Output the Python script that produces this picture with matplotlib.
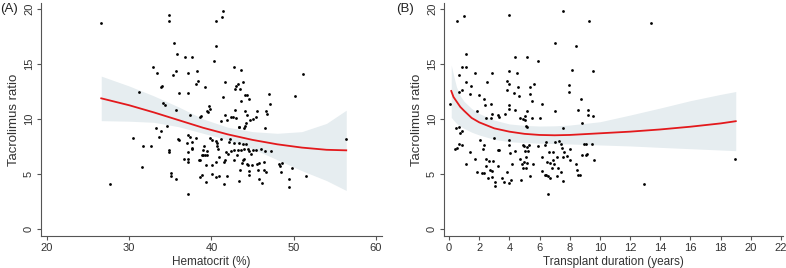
import matplotlib
matplotlib.use("Agg")
import matplotlib.pyplot as plt
import numpy as np

plt.rcParams['font.family'] = ['Liberation Sans', 'DejaVu Sans']

# ---------------- Panel A data: Hematocrit vs tacrolimus ratio ----------------
hct_x = [26.6, 34.9, 34.8, 41.4, 41.3, 40.5, 35.4, 40.5, 35.8, 36.8, 37.6, 40.3, 32.9, 33.4,
         35.7, 35.3, 37.1, 38.3, 42.8, 43.6, 51.1, 38.4, 38.1, 39.2, 41.6, 43.9, 43.0, 43.2,
         42.9, 43.5, 34.0, 33.9, 31.2, 36.0, 37.1, 44.1, 44.3, 47.0, 50.2, 41.4, 44.6, 43.6,
         47.1, 34.1, 34.3, 39.7, 39.8, 39.5, 39.6, 42.9, 41.7, 43.0, 44.1, 44.3, 45.6, 45.4,
         45.1, 44.7, 46.6, 46.8, 35.7, 37.4, 38.6, 38.7, 41.2, 41.9, 42.4, 42.6, 43.3, 43.4,
         44.2, 44.1, 44.0, 46.5, 34.6, 33.3, 33.9, 33.6, 30.5, 37.1, 37.4, 35.9, 36.1, 38.1,
         39.8, 40.1, 41.2, 40.5, 42.3, 40.7, 42.1, 42.8, 43.3, 43.9, 44.2, 45.1, 46.0, 46.5,
         47.3, 37.0, 37.6, 37.6, 37.6, 37.2, 39.1, 39.0, 39.5, 40.7, 40.8, 41.8, 42.0, 42.4,
         42.7, 43.2, 43.6, 44.0, 44.5, 44.6, 44.8, 45.4, 34.8, 34.8, 31.7, 32.7, 38.8, 39.0,
         39.2, 39.5, 36.7, 37.2, 37.2, 38.5, 38.6, 40.5, 40.9, 41.5, 41.7, 42.8, 43.1, 43.7,
         43.8, 44.0, 44.3, 44.4, 44.9, 45.5, 45.8, 46.4, 48.2, 48.6, 48.4, 40.1, 39.4, 31.6,
         49.8, 43.5, 44.6, 45.7, 46.4, 46.6, 48.5, 35.1, 35.1, 38.9, 40.1, 40.9, 41.9, 44.6,
         51.5, 38.6, 40.5, 35.7, 39.3, 41.5, 43.3, 45.8, 46.2, 49.4, 49.4, 27.7, 37.2, 56.4]
hct_y = [18.75, 19.45, 18.9, 19.8, 19.3, 18.9, 16.9, 16.6, 15.9, 15.6, 15.6, 15.3, 14.7, 14.2,
         14.4, 14.0, 14.2, 14.4, 14.7, 14.5, 14.1, 13.5, 13.2, 12.9, 13.4, 13.4, 13.0, 13.2,
         12.7, 12.7, 13.0, 12.9, 12.5, 12.4, 12.4, 12.2, 12.2, 12.3, 12.1, 12.0, 11.8, 11.6,
         11.4, 11.5, 11.3, 11.2, 10.9, 10.7, 10.6, 10.8, 10.4, 10.1, 10.7, 10.4, 10.7, 10.2,
         10.0, 9.9, 10.7, 10.5, 10.8, 10.4, 10.2, 10.3, 9.8, 9.9, 10.2, 10.2, 9.3, 9.3,
         9.6, 9.4, 9.2, 9.2, 9.4, 9.2, 8.9, 8.4, 8.3, 8.5, 8.4, 8.2, 8.1, 8.3,
         8.3, 8.1, 8.2, 8.0, 8.2, 7.8, 7.9, 7.8, 7.8, 7.7, 7.7, 7.2, 7.3, 7.1,
         7.1, 7.8, 7.9, 7.3, 7.4, 7.0, 7.5, 7.2, 7.1, 7.5, 7.3, 7.0, 6.8, 7.1,
         7.2, 7.2, 7.2, 7.3, 7.3, 7.1, 6.8, 7.2, 7.2, 7.0, 7.5, 7.5, 6.7, 6.7,
         6.7, 6.7, 6.4, 6.4, 6.1, 6.3, 6.3, 6.1, 6.5, 6.1, 6.3, 6.3, 6.7, 6.0,
         6.3, 6.4, 5.9, 5.8, 5.8, 5.9, 6.0, 6.1, 5.9, 6.0, 5.7, 5.8, 5.8, 5.6,
         5.5, 5.4, 5.3, 5.4, 5.4, 5.2, 5.2, 5.1, 4.8, 4.9, 5.0, 4.8, 4.8, 4.9,
         4.8, 4.7, 4.7, 4.5, 4.3, 4.1, 4.4, 4.5, 4.2, 4.5, 3.8, 4.1, 3.2, 8.2]

# fitted curve and 95% CI
hct_fit_x = [26.6, 30, 33, 36, 39, 42, 45, 48, 51, 54, 56.4]
hct_fit = [11.88, 11.25, 10.6, 9.9, 9.2, 8.6, 8.1, 7.7, 7.4, 7.2, 7.15]
hct_ci_lo = [9.85, 9.8, 9.7, 9.3, 8.7, 8.1, 7.3, 6.3, 5.3, 4.4, 3.5]
hct_ci_hi = [13.9, 13.0, 12.1, 11.1, 10.0, 9.25, 8.85, 8.7, 8.85, 9.6, 10.8]

# ---------------- Panel B data: Transplant duration vs tacrolimus ratio ----------------
dur_x = [0.55, 1.0, 4.0, 7.56, 9.26, 13.4, 7.05, 8.4, 1.13, 4.4, 5.17, 5.93, 0.88, 1.15,
         1.7, 2.85, 4.0, 4.5, 8.16, 9.57, 0.64, 1.15, 2.54, 3.87, 3.98, 1.46, 4.55, 5.37,
         5.6, 7.94, 0.88, 0.68, 3.82, 4.33, 7.94, 2.0, 4.62, 5.4, 1.4, 2.34, 8.73, 5.48,
         2.37, 2.78, 4.0, 6.19, 0.1, 1.86, 3.98, 4.38, 5.17, 7.05, 8.53, 9.22, 2.87, 3.25,
         3.32, 3.74, 9.22, 9.57, 2.48, 2.78, 4.69, 4.93, 5.06, 5.53, 6.01, 5.04, 0.49, 0.66,
         0.71, 0.86, 8.8, 5.08, 5.2, 7.58, 2.03, 3.0, 3.98, 0.53, 0.42, 0.69, 0.88, 1.4,
         2.3, 2.23, 3.23, 3.34, 3.98, 4.02, 4.38, 4.93, 4.97, 5.04, 5.15, 5.22, 5.3, 5.93,
         6.39, 6.45, 7.03, 7.32, 7.4, 7.49, 7.63, 8.0, 8.95, 9.06, 9.48, 9.17, 9.06, 8.78,
         7.83, 7.58, 6.92, 6.63, 6.9, 7.14, 6.19, 5.13, 4.71, 4.16, 2.92, 2.68, 2.43, 1.7,
         1.1, 1.86, 2.21, 2.34, 2.74, 2.83, 2.45, 3.23, 2.61, 2.85, 3.03, 3.05, 3.54, 3.67,
         3.85, 3.98, 4.09, 4.86, 4.91, 5.0, 5.17, 5.08, 5.4, 4.78, 5.57, 6.15, 6.37, 6.45,
         6.59, 6.68, 6.52, 6.68, 6.96, 6.85, 7.23, 7.43, 7.56, 7.14, 8.03, 8.4, 8.49, 8.53,
         8.67, 9.6, 6.59, 12.93, 18.93]
dur_y = [18.9, 19.4, 19.45, 19.8, 18.9, 18.75, 16.9, 16.6, 15.9, 15.6, 15.6, 15.3, 14.7, 14.7,
         14.2, 14.2, 14.4, 14.2, 14.5, 14.4, 14.0, 13.4, 13.4, 13.45, 13.2, 13.0, 12.9, 12.9,
         13.15, 13.06, 12.6, 12.45, 12.6, 12.4, 12.5, 12.2, 12.1, 12.3, 12.25, 11.8, 11.85, 11.6,
         11.25, 11.4, 11.25, 11.33, 11.4, 10.7, 10.9, 10.8, 10.7, 10.7, 10.8, 10.8, 10.5, 10.4,
         10.2, 10.5, 10.4, 10.3, 10.1, 10.1, 10.1, 10.0, 9.9, 10.1, 10.1, 10.27, 9.2, 9.3,
         8.76, 8.9, 9.6, 9.36, 9.3, 9.2, 8.1, 8.3, 8.1, 7.4, 7.24, 7.7, 7.6, 7.0,
         7.6, 7.24, 7.2, 7.2, 7.6, 6.94, 7.1, 7.6, 7.5, 7.1, 7.45, 7.1, 7.6, 7.55,
         7.6, 7.9, 7.9, 7.97, 7.7, 7.33, 6.97, 7.27, 7.73, 7.76, 7.76, 6.8, 6.7, 6.7,
         6.67, 6.58, 7.0, 7.0, 6.27, 6.5, 6.5, 6.5, 6.33, 5.9, 6.18, 6.18, 6.33, 6.33,
         5.94, 5.2, 5.12, 5.12, 5.36, 5.3, 5.76, 5.76, 4.6, 4.76, 4.3, 3.88, 4.6, 4.24,
         5.15, 4.15, 4.45, 5.94, 5.5, 6.06, 6.03, 5.58, 4.85, 4.45, 5.88, 5.3, 4.9, 4.9,
         4.85, 4.64, 6.06, 5.97, 5.9, 5.58, 5.5, 5.15, 4.36, 4.85, 6.27, 5.88, 5.36, 4.9,
         4.9, 6.27, 3.15, 4.12, 6.4]

# fitted curve and 95% CI
dur_fit_x = [0.15, 0.3, 0.5, 0.75, 1, 1.5, 2, 3, 4, 5, 6, 7, 8, 10, 12, 14, 16, 18, 19]
dur_fit = [12.55, 12.0, 11.6, 11.1, 10.75, 10.1, 9.7, 9.15, 8.85, 8.65, 8.55, 8.52, 8.55,
           8.7, 8.85, 9.05, 9.3, 9.6, 9.8]
dur_ci_lo = [10.15, 9.9, 9.6, 9.35, 9.15, 8.8, 8.55, 8.15, 7.94, 7.85, 7.8, 7.76, 7.73,
             7.64, 7.55, 7.42, 7.3, 7.18, 7.12]
dur_ci_hi = [14.9, 14.0, 12.9, 12.1, 11.6, 10.95, 10.5, 9.9, 9.55, 9.42, 9.36, 9.38, 9.45,
             9.75, 10.36, 11.0, 11.67, 12.24, 12.5]

band_color = '#E6EDF0'
line_color = '#E3191C'
axis_color = '#555555'

fig = plt.figure(figsize=(7.86, 2.68), dpi=100)
axA = fig.add_axes([41 / 786, 1 - 236 / 268, (382 - 41) / 786, 233 / 268])
axB = fig.add_axes([444 / 786, 1 - 236 / 268, (783 - 444) / 786, 233 / 268])


def style(ax):
    for s in ['top', 'right']:
        ax.spines[s].set_visible(False)
    for s in ['left', 'bottom']:
        ax.spines[s].set_color(axis_color)
        ax.spines[s].set_linewidth(0.8)
    ax.tick_params(axis='both', colors=axis_color, labelcolor='#333333', labelsize=8,
                   length=3, width=0.8, direction='out', pad=2)
    ax.set_yticks([0, 5, 10, 15, 20])
    for lab in ax.get_yticklabels():
        lab.set_rotation(90)
        lab.set_va('center')
    ax.set_ylim(-0.64, 20.55)
    ax.set_ylabel('Tacrolimus ratio', fontsize=9.5, color='#333333', labelpad=3)


# Panel A
axA.fill_between(hct_fit_x, hct_ci_lo, hct_ci_hi, color=band_color, lw=0, zorder=1)
axA.scatter(hct_x, hct_y, s=4, color='black', lw=0, zorder=2)
axA.plot(hct_fit_x, hct_fit, color=line_color, lw=1.3, zorder=3)
axA.set_xlim(19.27, 60.75)
axA.set_xticks([20, 30, 40, 50, 60])
axA.set_xlabel('Hematocrit (%)', fontsize=8.5, color='#333333', labelpad=2)
style(axA)

# Panel B
axB.fill_between(dur_fit_x, dur_ci_lo, dur_ci_hi, color=band_color, lw=0, zorder=1)
axB.scatter(dur_x, dur_y, s=4, color='black', lw=0, zorder=2)
axB.plot(dur_fit_x, dur_fit, color=line_color, lw=1.3, zorder=3)
axB.set_xlim(-0.33, 22.13)
axB.set_xticks(list(range(0, 23, 2)))
axB.set_xlabel('Transplant duration (years)', fontsize=8.5, color='#333333', labelpad=2)
style(axB)

fig.text(0 / 786, 1 - 9 / 268, '(A)', fontsize=9.5, color='#222222', ha='left', va='center')
fig.text(396 / 786, 1 - 9 / 268, '(B)', fontsize=9.5, color='#222222', ha='left', va='center')

fig.savefig('out.png', dpi=100)
